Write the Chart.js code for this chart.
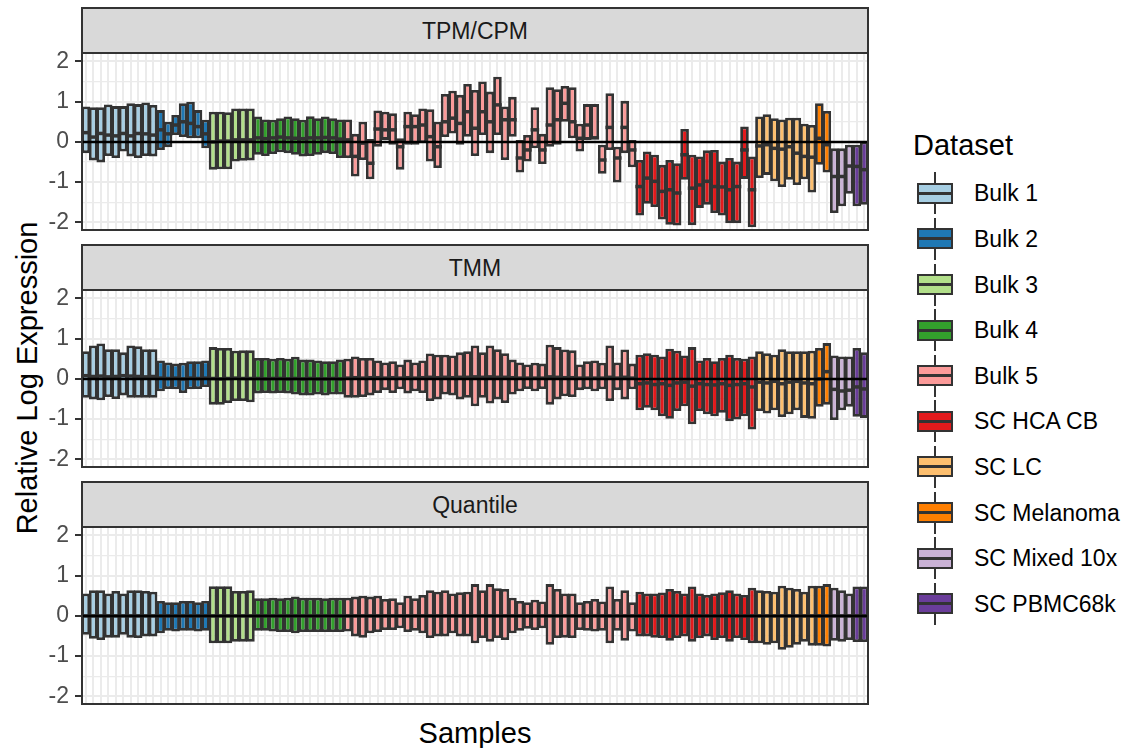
<!DOCTYPE html>
<html>
<head>
<meta charset="utf-8">
<title>Relative Log Expression</title>
<script src="https://cdn.jsdelivr.net/npm/chart.js@4.4.1/dist/chart.umd.min.js"></script>
<style>
    body { margin: 0; background: #fff; font-family: "Liberation Sans", Arial, sans-serif; }
    #page { position: relative; width: 1138px; height: 748px; overflow: hidden; background: #fff; }
    .panel { position: absolute; left: 0; }
    .strip {
        position: absolute; left: 81px; width: 788px; height: 47px; box-sizing: border-box;
        border: 2px solid #333; background: #D9D9D9; color: #1A1A1A; font-size: 23px;
        display: flex; align-items: center; justify-content: center; padding-top: 2px;
    }
    .axis-title { position: absolute; font-size: 29px; color: #000; white-space: nowrap; transform: translate(-50%, -50%); }
    #yTitle { transform: translate(-50%, -50%) rotate(-90deg); }
    #legendTitle { position: absolute; left: 913px; top: 145px; transform: translateY(-50%); font-size: 29px; }
    .item { position: absolute; left: 917px; height: 42px; transform: translateY(-50%); }
    .key { position: absolute; left: 0; top: 0; width: 36px; height: 42px; }
    .key .whisker { position: absolute; left: 17px; top: 0; width: 2px; height: 42px; background: #333; }
    .key .box { position: absolute; left: 0; top: 10.5px; width: 36px; height: 21px; box-sizing: border-box; border: 2.5px solid #333; }
    .key .mid { position: absolute; left: 0; top: 19.5px; width: 36px; height: 3px; background: #333; }
    .item .label { position: absolute; left: 57px; top: 21px; transform: translateY(-50%); font-size: 23px; color: #000; white-space: nowrap; }
</style>
</head>
<body>
<div id="page">
    <div class="axis-title" id="yTitle" style="left:27px; top:378px;">Relative Log Expression</div>
    <div class="axis-title" id="xTitle" style="left:475px; top:733px;">Samples</div>
    <div id="legendTitle">Dataset</div>
</div>
<script>
/**
 * RLE boxplots per normalisation method (faceted)
 * Boxes = lower/upper quartile, dark bar = median, black line = 0
 */

// Datasets (fill colours from the Paired palette)
const datasetNames = ['Bulk 1', 'Bulk 2', 'Bulk 3', 'Bulk 4', 'Bulk 5',
    'SC HCA CB', 'SC LC', 'SC Melanoma', 'SC Mixed 10x', 'SC PBMC68k'];
const datasetColors = ['#A6CEE3', '#1F78B4', '#B2DF8A', '#33A02C', '#FB9A99',
    '#E31A1C', '#FDBF6F', '#FF7F00', '#CAB2D6', '#6A3D9A'];
const datasetSizes = [10, 7, 6, 12, 39, 16, 8, 2, 3, 2];

const panelTitles = ['TPM/CPM', 'TMM', 'Quantile'];
const yTickLabels = [-2, -1, 0, 1, 2];
const yMin = -2.19;
const yMax = 2.21;

// TPM/CPM
const tpmLower = [
    -0.28, -0.46, -0.51, -0.35, -0.40, -0.24, -0.36, -0.40, -0.35, -0.36,
    -0.20, -0.13, 0.17, 0.12, 0.09, 0.09, -0.16,
    -0.69, -0.68, -0.68, -0.49, -0.47, -0.46,
    -0.32, -0.35, -0.30, -0.26, -0.28, -0.32, -0.36, -0.35, -0.32, -0.28, -0.30, -0.40,
    -0.40, -0.86, -0.45, -0.93, -0.12, 0.05, -0.07, -0.69, -0.07, -0.07, -0.03, -0.49, -0.65, 0.12, 0.21, -0.07, 0.13, -0.35, 0.17, -0.28,
    0.17, -0.45, 0.13, -0.76, -0.49, -0.16, -0.55, -0.12, -0.07, 0.50, 0.09, -0.24, 0.05, 0.07, -0.79, -0.20, -1.01, -0.28, -0.63,
    -1.83, -1.54, -1.62, -1.93, -2.06, -2.08, -0.94, -2.07, -1.64, -1.56, -1.77, -1.83, -2.02, -2.02, -0.92, -2.12,
    -0.90, -0.82, -0.98, -1.12, -0.94, -1.07, -0.93, -1.26,
    -0.57, -0.76,
    -1.77, -1.60, -1.29,
    -1.60, -1.56
];
const tpmMedian = [
    0.23, 0.12, 0.21, 0.17, 0.15, 0.21, 0.15, 0.21, 0.20, 0.17,
    0.30, 0.20, 0.42, 0.50, 0.46, 0.38, 0.20,
    0.00, 0.02, 0.02, 0.05, 0.05, 0.05,
    0.10, 0.08, 0.10, 0.12, 0.10, 0.09, 0.08, 0.10, 0.10, 0.11, 0.10, 0.07,
    0.05, -0.36, -0.03, -0.53, 0.32, 0.30, 0.30, -0.12, 0.38, 0.38, 0.42, 0.13, -0.12, 0.50, 0.59, 0.46, 0.75, 0.34, 0.75, 0.50,
    0.92, 0.55, 0.55, -0.40, -0.20, 0.30, -0.20, 0.42, 0.55, 0.96, 0.50, 0.09, 0.42, 0.10, -0.45, 0.36, -0.40, 0.36, -0.20,
    -1.11, -0.90, -0.98, -1.23, -1.19, -1.27, -0.32, -1.15, -1.07, -0.98, -1.11, -1.12, -1.19, -1.11, -0.20, -1.19,
    -0.10, -0.07, -0.16, -0.18, -0.12, -0.28, -0.36, -0.38,
    0.09, -0.07,
    -0.86, -0.86, -0.60,
    -0.61, -0.69
];
const tpmUpper = [
    0.88, 0.86, 0.86, 0.93, 0.89, 0.89, 0.96, 0.94, 0.98, 0.92,
    0.79, 0.50, 0.67, 0.96, 1.00, 0.79, 0.55,
    0.75, 0.75, 0.74, 0.83, 0.83, 0.83,
    0.63, 0.56, 0.55, 0.59, 0.63, 0.59, 0.55, 0.64, 0.59, 0.63, 0.59, 0.56,
    0.56, 0.20, 0.50, 0.07, 0.78, 0.75, 0.71, 0.09, 0.75, 0.69, 0.83, 0.81, 0.50, 1.19, 1.27, 1.17, 1.44, 1.29, 1.50, 1.25,
    1.62, 0.88, 1.12, 0.05, 0.17, 0.86, 0.20, 1.36, 1.31, 1.39, 1.36, 0.45, 0.94, 0.94, -0.07, 1.21, -0.12, 1.02, 0.05,
    -0.45, -0.24, -0.32, -0.57, -0.45, -0.53, 0.32, -0.32, -0.36, -0.21, -0.20, -0.49, -0.40, -0.49, 0.38, -0.36,
    0.63, 0.69, 0.59, 0.56, 0.60, 0.60, 0.45, 0.42,
    0.96, 0.77,
    -0.16, -0.16, -0.07,
    -0.07, 0.01
];

// TMM
const tmmLower = [
    -0.47, -0.51, -0.53, -0.45, -0.50, -0.41, -0.47, -0.47, -0.47, -0.47,
    -0.31, -0.25, -0.26, -0.35, -0.26, -0.25, -0.20,
    -0.64, -0.64, -0.60, -0.55, -0.55, -0.58,
    -0.36, -0.35, -0.36, -0.35, -0.36, -0.39, -0.41, -0.41, -0.39, -0.41, -0.39, -0.39,
    -0.47, -0.47, -0.45, -0.41, -0.35, -0.28, -0.35, -0.26, -0.36, -0.31, -0.35, -0.55, -0.51, -0.39, -0.41, -0.51, -0.47, -0.68, -0.47, -0.61,
    -0.51, -0.60, -0.39, -0.31, -0.25, -0.31, -0.25, -0.64, -0.51, -0.43, -0.45, -0.28, -0.26, -0.31, -0.26, -0.55, -0.28, -0.51, -0.26,
    -0.78, -0.72, -0.78, -0.93, -0.99, -0.80, -0.68, -1.13, -0.80, -0.88, -0.93, -0.84, -1.05, -1.01, -0.93, -1.26,
    -0.80, -0.86, -0.78, -0.95, -0.88, -0.78, -0.97, -0.99,
    -0.69, -0.64,
    -1.02, -0.78, -0.69,
    -0.94, -0.97
];
const tmmMedian = [
    0.08, 0.06, 0.07, 0.05, 0.06, 0.08, 0.07, 0.06, 0.05, 0.06,
    0.02, 0.01, 0.02, 0.00, 0.02, 0.01, 0.02,
    0.01, 0.00, 0.01, 0.02, 0.01, 0.01,
    0.01, 0.00, 0.01, 0.01, 0.00, 0.01, 0.00, 0.01, 0.00, 0.00, 0.01, 0.00,
    0.02, 0.03, 0.02, 0.03, 0.03, 0.02, 0.03, 0.02, 0.03, 0.02, 0.03, 0.04, 0.03, 0.04, 0.03, 0.04, 0.04, 0.05, 0.04, 0.05,
    0.04, 0.04, 0.03, 0.02, 0.02, 0.02, 0.02, 0.05, 0.04, 0.03, 0.03, 0.02, 0.02, 0.02, 0.02, 0.04, 0.02, 0.04, 0.02,
    -0.12, -0.10, -0.14, -0.12, -0.16, -0.10, -0.08, -0.18, -0.12, -0.14, -0.15, -0.12, -0.16, -0.14, -0.12, -0.20,
    -0.08, -0.10, -0.06, -0.12, -0.08, -0.06, -0.10, -0.12,
    0.00, 0.18,
    -0.26, -0.30, -0.28,
    -0.20, -0.25
];
const tmmUpper = [
    0.69, 0.83, 0.88, 0.74, 0.74, 0.66, 0.83, 0.81, 0.74, 0.74,
    0.46, 0.41, 0.38, 0.40, 0.44, 0.44, 0.46,
    0.79, 0.77, 0.77, 0.70, 0.71, 0.71,
    0.52, 0.52, 0.50, 0.52, 0.50, 0.55, 0.48, 0.48, 0.46, 0.44, 0.44, 0.48,
    0.50, 0.56, 0.52, 0.52, 0.46, 0.41, 0.44, 0.36, 0.48, 0.41, 0.46, 0.63, 0.60, 0.60, 0.58, 0.66, 0.69, 0.83, 0.66, 0.83,
    0.74, 0.64, 0.48, 0.41, 0.36, 0.40, 0.38, 0.85, 0.79, 0.73, 0.71, 0.36, 0.44, 0.46, 0.40, 0.83, 0.41, 0.73, 0.38,
    0.60, 0.64, 0.60, 0.56, 0.75, 0.70, 0.58, 0.79, 0.46, 0.52, 0.44, 0.52, 0.60, 0.52, 0.50, 0.56,
    0.69, 0.64, 0.60, 0.74, 0.69, 0.69, 0.69, 0.70,
    0.77, 0.89,
    0.58, 0.56, 0.56,
    0.77, 0.66
];

// Quantile
const quantileLower = [
    -0.47, -0.57, -0.60, -0.54, -0.54, -0.47, -0.54, -0.55, -0.51, -0.51,
    -0.43, -0.37, -0.39, -0.37, -0.37, -0.39, -0.37,
    -0.68, -0.68, -0.68, -0.64, -0.64, -0.64,
    -0.37, -0.37, -0.39, -0.40, -0.40, -0.43, -0.40, -0.40, -0.40, -0.40, -0.40, -0.40,
    -0.39, -0.51, -0.54, -0.43, -0.40, -0.35, -0.35, -0.31, -0.40, -0.37, -0.43, -0.55, -0.51, -0.51, -0.43, -0.51, -0.51, -0.68, -0.55, -0.64,
    -0.55, -0.60, -0.43, -0.37, -0.32, -0.35, -0.31, -0.72, -0.55, -0.54, -0.55, -0.35, -0.37, -0.39, -0.37, -0.68, -0.37, -0.62, -0.39,
    -0.51, -0.51, -0.54, -0.55, -0.62, -0.55, -0.51, -0.64, -0.55, -0.51, -0.60, -0.55, -0.64, -0.55, -0.60, -0.68,
    -0.68, -0.72, -0.68, -0.84, -0.79, -0.72, -0.64, -0.74,
    -0.74, -0.76,
    -0.62, -0.64, -0.60,
    -0.65, -0.65
];
const quantileMedian = [
    0.00, 0.00, 0.00, 0.00, 0.00, 0.00, 0.00, 0.00, 0.00, 0.00,
    0.00, 0.00, 0.00, 0.00, 0.00, 0.00, 0.00,
    0.00, 0.00, 0.00, 0.00, 0.00, 0.00,
    0.00, 0.00, 0.00, 0.00, 0.00, 0.00, 0.00, 0.00, 0.00, 0.00, 0.00, 0.00,
    0.00, 0.00, 0.00, 0.00, 0.00, 0.00, 0.00, 0.00, 0.00, 0.00, 0.00, 0.00, 0.00, 0.00, 0.00, 0.00, 0.00, 0.00, 0.00, 0.00,
    0.00, 0.00, 0.00, 0.00, 0.00, 0.00, 0.00, 0.00, 0.00, 0.00, 0.00, 0.00, 0.00, 0.00, 0.00, 0.00, 0.00, 0.00, 0.00,
    0.00, 0.00, 0.00, 0.00, 0.00, 0.00, 0.00, 0.00, 0.00, 0.00, 0.00, 0.00, 0.00, 0.00, 0.00, 0.00,
    0.00, 0.00, 0.00, 0.00, 0.00, 0.00, 0.00, 0.00,
    0.00, 0.00,
    0.00, 0.00, 0.00,
    0.00, 0.00
];
const quantileUpper = [
    0.56, 0.64, 0.64, 0.56, 0.62, 0.56, 0.64, 0.64, 0.62, 0.60,
    0.37, 0.34, 0.34, 0.37, 0.37, 0.34, 0.37,
    0.74, 0.74, 0.74, 0.62, 0.62, 0.64,
    0.44, 0.44, 0.45, 0.44, 0.45, 0.48, 0.45, 0.45, 0.45, 0.44, 0.45, 0.45,
    0.45, 0.48, 0.50, 0.48, 0.50, 0.42, 0.44, 0.34, 0.50, 0.44, 0.52, 0.64, 0.60, 0.64, 0.56, 0.59, 0.60, 0.79, 0.64, 0.79,
    0.69, 0.67, 0.45, 0.37, 0.34, 0.40, 0.36, 0.79, 0.67, 0.56, 0.56, 0.34, 0.37, 0.42, 0.36, 0.73, 0.42, 0.64, 0.34,
    0.60, 0.56, 0.56, 0.58, 0.67, 0.62, 0.56, 0.73, 0.56, 0.52, 0.56, 0.59, 0.64, 0.56, 0.52, 0.70,
    0.64, 0.62, 0.60, 0.75, 0.70, 0.67, 0.60, 0.75,
    0.75, 0.79,
    0.70, 0.64, 0.56,
    0.73, 0.73
];

const FONT = '"Liberation Sans", Arial, sans-serif';
const PANEL_TOPS = [53, 290, 527];
const PANEL_H = 177;
const PAD = 20;

// Medians, zero line and panel frame drawn on top of the boxes
const boxExtras = {
    id: 'boxExtras',
    afterDatasetsDraw(chart, args, opts) {
        const { ctx, chartArea: area, scales: { y } } = chart;
        const bars = chart.getDatasetMeta(0).data;
        ctx.save();
        ctx.beginPath();
        ctx.rect(area.left, area.top, area.width, area.height);
        ctx.clip();

        ctx.strokeStyle = '#333333';
        ctx.lineWidth = 3.5;
        bars.forEach((bar, i) => {
            const { x, width } = bar.getProps(['x', 'width'], true);
            const py = y.getPixelForValue(opts.medians[i]);
            ctx.beginPath();
            ctx.moveTo(x - width / 2, py);
            ctx.lineTo(x + width / 2, py);
            ctx.stroke();
        });

        const y0 = y.getPixelForValue(0);
        ctx.strokeStyle = '#000000';
        ctx.lineWidth = 2.5;
        ctx.beginPath();
        ctx.moveTo(area.left, y0);
        ctx.lineTo(area.right, y0);
        ctx.stroke();
        ctx.restore();
    },
    afterDraw(chart) {
        const { ctx, chartArea: a } = chart;
        ctx.save();
        ctx.strokeStyle = '#333333';
        ctx.lineWidth = 2;
        ctx.strokeRect(a.left, a.top, a.width, a.height);
        ctx.restore();
    }
};

const Facets = {
    init() {
        this.page = document.getElementById('page');
        this.labels = [];
        this.colors = [];
        datasetSizes.forEach((n, d) => {
            for (let k = 1; k <= n; k++) {
                this.labels.push(datasetNames[d] + ' #' + k);
                this.colors.push(datasetColors[d]);
            }
        });

        const panels = [
            { title: panelTitles[0], lower: tpmLower, median: tpmMedian, upper: tpmUpper },
            { title: panelTitles[1], lower: tmmLower, median: tmmMedian, upper: tmmUpper },
            { title: panelTitles[2], lower: quantileLower, median: quantileMedian, upper: quantileUpper }
        ];
        panels.forEach((p, i) => this.renderPanel(p, PANEL_TOPS[i]));
        panels.forEach((p, i) => this.renderStrip(p.title, PANEL_TOPS[i]));
        this.renderLegend();
    },

    renderPanel(p, top) {
        const canvas = document.createElement('canvas');
        canvas.className = 'panel';
        canvas.width = 870;
        canvas.height = PANEL_H + 2 * PAD;
        canvas.style.top = (top - PAD) + 'px';
        canvas.style.width = '870px';
        canvas.style.height = (PANEL_H + 2 * PAD) + 'px';
        this.page.appendChild(canvas);

        const isMajor = v => yTickLabels.includes(Math.round(v * 100) / 100);

        new Chart(canvas, {
            type: 'bar',
            data: {
                labels: this.labels,
                datasets: [{
                    data: p.lower.map((lo, i) => [lo, p.upper[i]]),
                    backgroundColor: this.colors,
                    borderColor: '#333333',
                    borderWidth: 2.8,
                    borderSkipped: false,
                    inflateAmount: 0,
                    barThickness: 8.6
                }]
            },
            options: {
                responsive: false,
                animation: false,
                layout: { padding: { top: PAD, bottom: PAD, left: 0, right: 2 } },
                plugins: {
                    legend: { display: false },
                    tooltip: { enabled: false },
                    boxExtras: { medians: p.median }
                },
                scales: {
                    x: {
                        offset: true,
                        grid: { offset: false, color: '#EBEBEB', lineWidth: 2, drawTicks: false },
                        ticks: { display: false },
                        border: { display: false },
                        afterFit: s => { s.height = 0; }
                    },
                    y: {
                        min: yMin,
                        max: yMax,
                        ticks: {
                            stepSize: 0.5,
                            autoSkip: false,
                            includeBounds: false,
                            padding: 6,
                            color: '#4D4D4D',
                            font: { family: FONT, size: 23 },
                            callback: v => isMajor(v) ? String(Math.round(v)) : ''
                        },
                        grid: {
                            color: '#EBEBEB',
                            lineWidth: c => isMajor(c.tick.value) ? 2 : 1.2,
                            tickLength: 7,
                            tickWidth: 2,
                            tickColor: c => isMajor(c.tick.value) ? '#333333' : 'rgba(0,0,0,0)'
                        },
                        border: { display: false },
                        afterFit: s => { s.width = 82; }
                    }
                }
            },
            plugins: [boxExtras]
        });
    },

    renderStrip(title, top) {
        const strip = document.createElement('div');
        strip.className = 'strip';
        strip.style.top = (top - 46) + 'px';
        strip.textContent = title;
        this.page.appendChild(strip);
    },

    renderLegend() {
        datasetNames.forEach((name, i) => {
            const item = document.createElement('div');
            item.className = 'item';
            item.style.top = (193.3 + 45.6 * i) + 'px';
            item.innerHTML =
                '<div class="key"><span class="whisker"></span>' +
                '<span class="box" style="background:' + datasetColors[i] + '"></span>' +
                '<span class="mid"></span></div>' +
                '<span class="label"></span>';
            item.querySelector('.label').textContent = name;
            this.page.appendChild(item);
        });
    }
};

if (document.readyState === 'loading') {
    document.addEventListener('DOMContentLoaded', () => Facets.init());
} else {
    Facets.init();
}
</script>
</body>
</html>
